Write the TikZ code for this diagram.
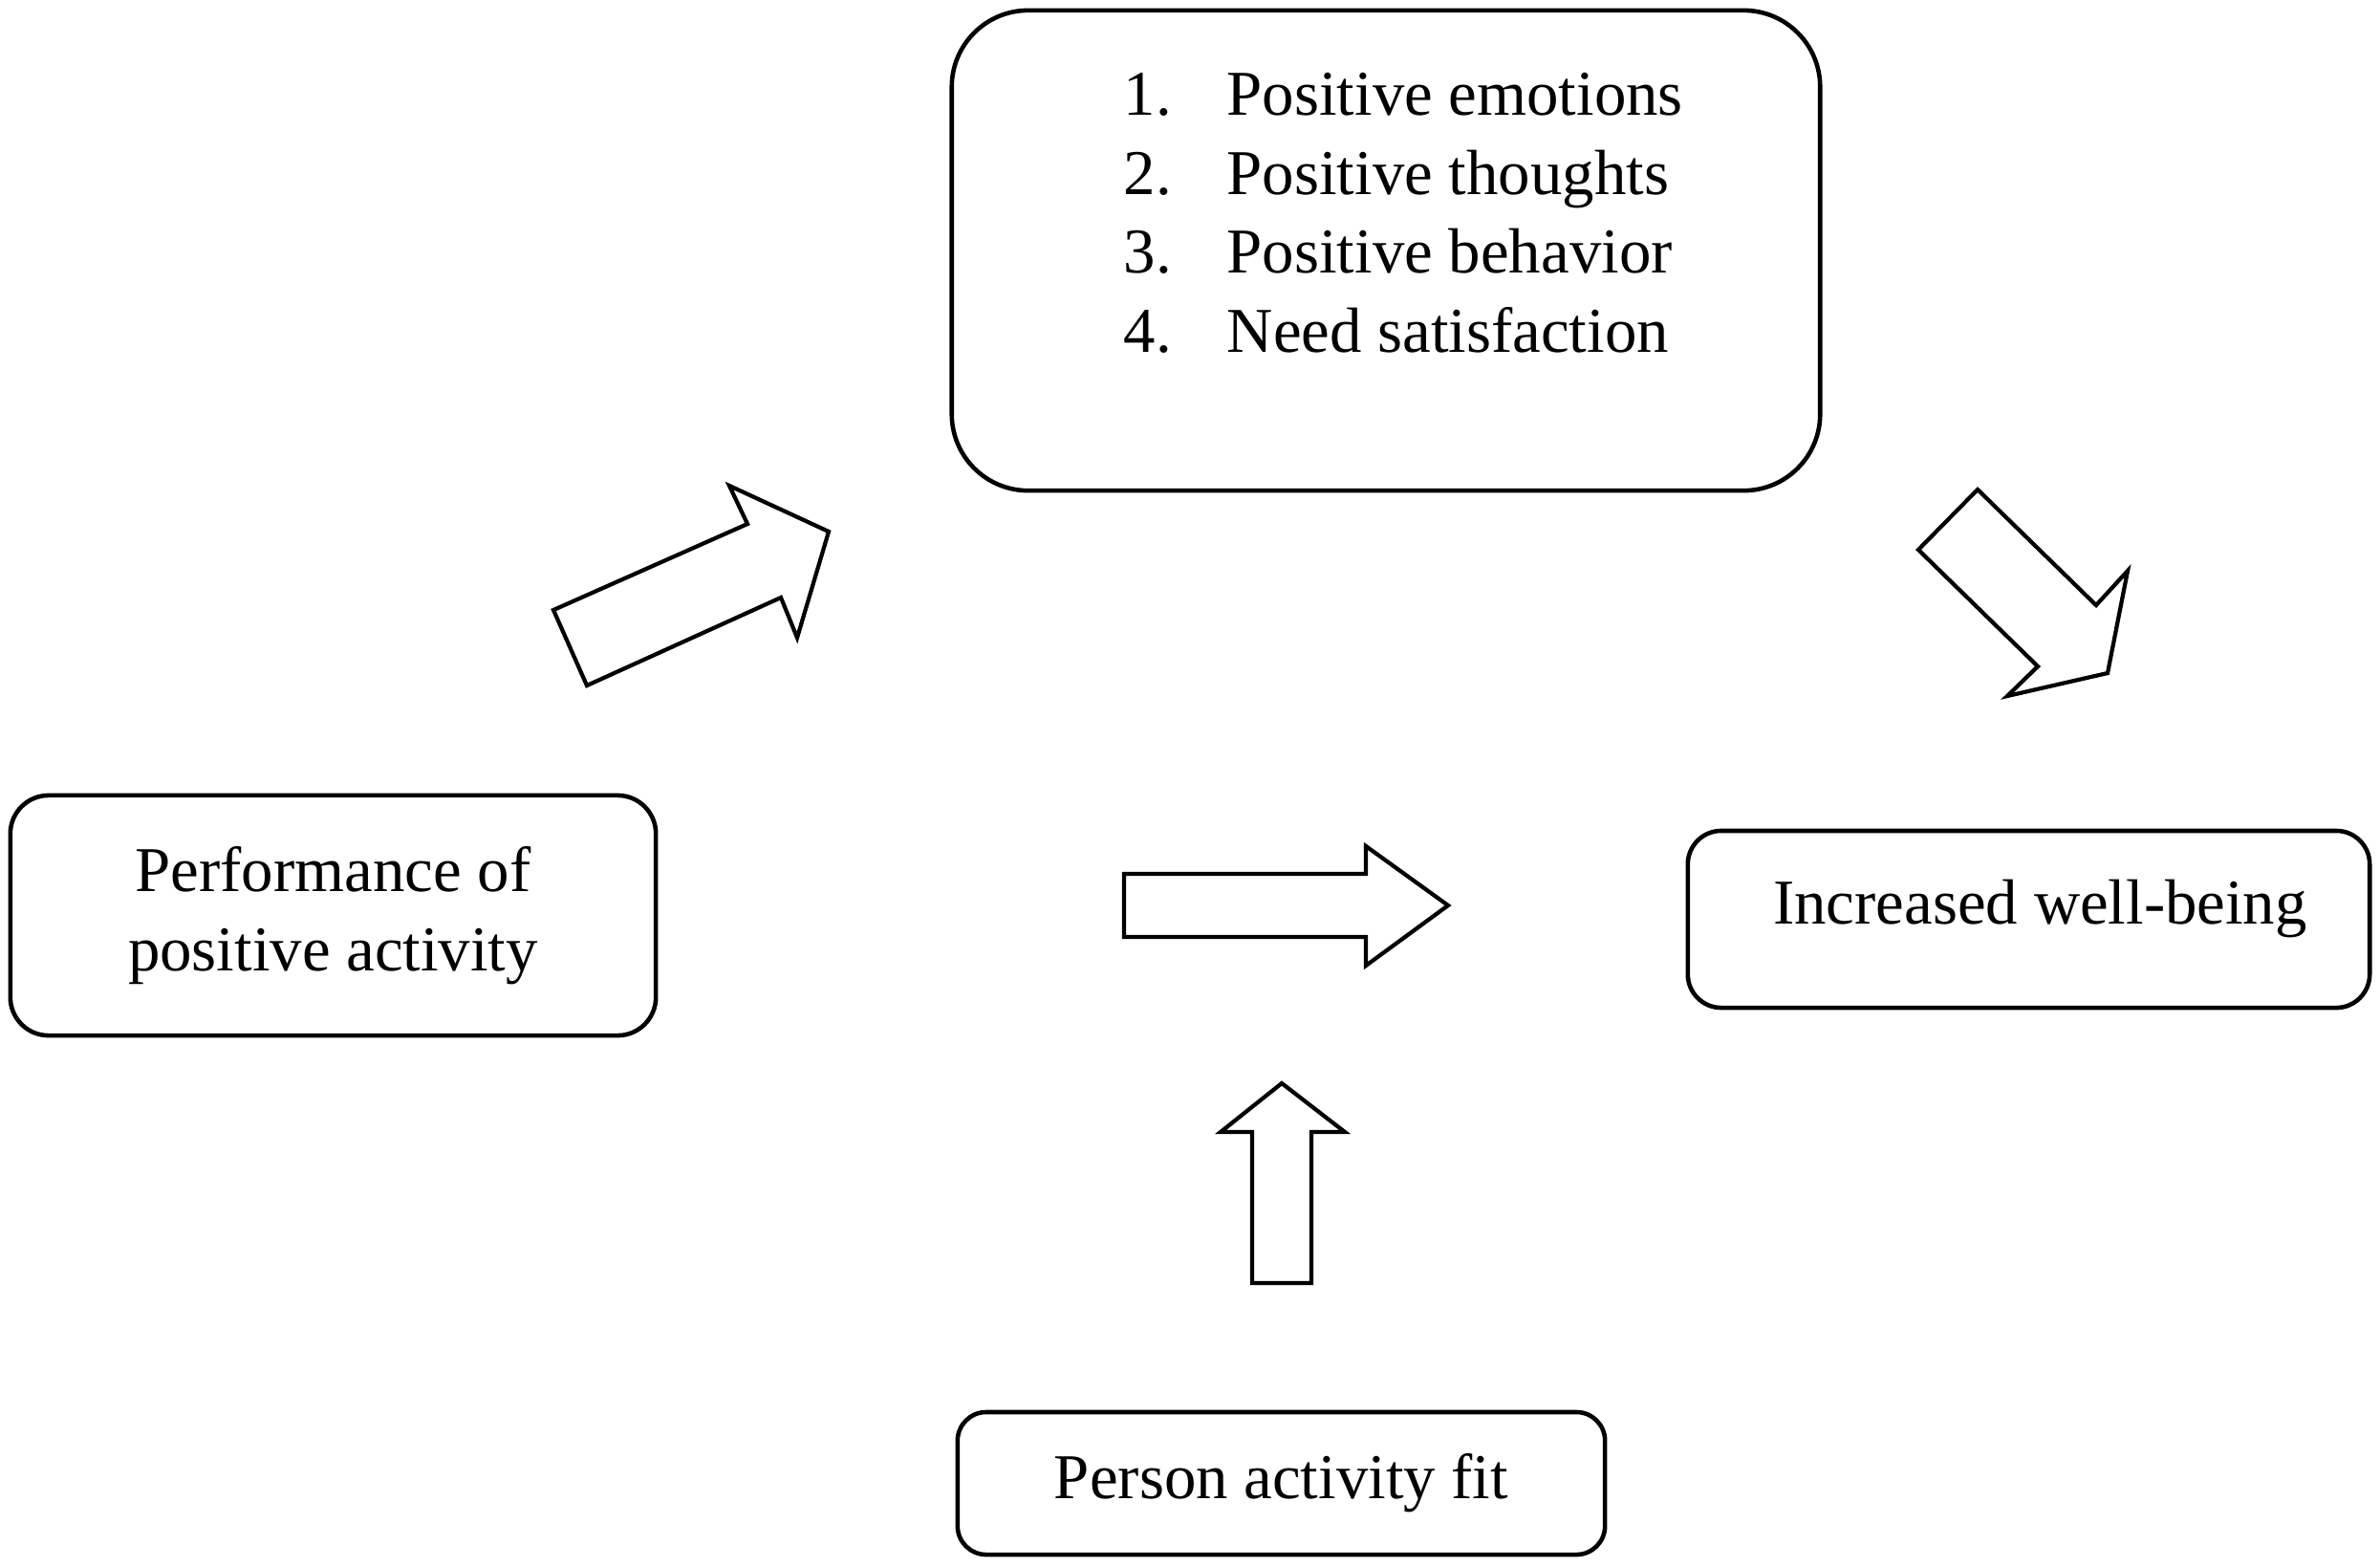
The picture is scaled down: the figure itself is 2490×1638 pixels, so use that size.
\documentclass[tikz,border=0pt]{standalone}
\usepackage{fontspec}
\setmainfont{Liberation Serif}
\usetikzlibrary{positioning}

\begin{document}
\begin{tikzpicture}[
  x=0.01cm, y=-0.01cm,
  font=\fontsize{19}{23.5}\selectfont,
  box/.style={draw, line width=1.3pt, rounded corners=0.4cm, align=center, inner sep=0pt},
  blockarr/.style={draw, line width=1.2pt, line join=miter, fill=white}
]
\useasboundingbox (0,0) rectangle (2490,1638);

% boxes
\node[box, rounded corners=0.8cm, minimum width=9.08cm, minimum height=5.02cm] (mech) at (1450,262) {};
\node[anchor=west, inner sep=0pt] (items) at (1175,228) {%
  \begin{tabular}{@{}l@{\hspace{0.58cm}}l@{}}
  1. & Positive emotions\\
  2. & Positive thoughts\\
  3. & Positive behavior\\
  4. & Need satisfaction
  \end{tabular}};
\node[box, minimum width=6.75cm, minimum height=2.51cm] (perf) at (348.5,957.5) {Performance of\\positive activity};
\node[box, rounded corners=0.35cm, minimum width=7.13cm, minimum height=1.85cm, text depth=0.36cm] (wellb) at (2122.5,961.5) {\hspace{0.24cm}Increased well-being};
\node[box, rounded corners=0.3cm, minimum width=6.77cm, minimum height=1.49cm] (fit) at (1340.5,1551.5) {Person activity fit};

% block arrows
\draw[blockarr] (579,638) -- (782,548) -- (763,508) -- (867,556) -- (834,667) -- (817,625) -- (614,717) -- cycle;
\draw[blockarr] (2069,512) -- (2193,633) -- (2226,597) -- (2205,704) -- (2100,728) -- (2132,697) -- (2007,575) -- cycle;
\draw[blockarr] (1176,914) -- (1429,914) -- (1429,885) -- (1515,947) -- (1429,1010) -- (1429,980) -- (1176,980) -- cycle;
\draw[blockarr] (1341,1133) -- (1407,1184) -- (1372,1184) -- (1372,1342) -- (1310,1342) -- (1310,1184) -- (1277,1184) -- cycle;
\end{tikzpicture}
\end{document}
